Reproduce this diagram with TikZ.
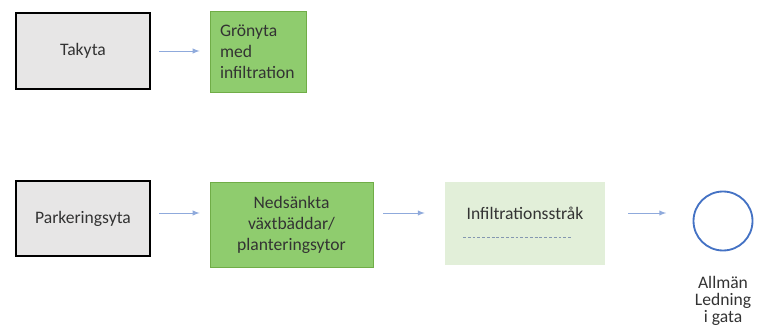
\documentclass[tikz,border=0pt]{standalone}
\usepackage{fontspec}
\setmainfont{Carlito}
\usepackage{tikz}
\usetikzlibrary{positioning}
\usetikzlibrary{calc}
\definecolor{takgra}{RGB}{231,230,230}
\definecolor{gron}{RGB}{143,204,110}
\definecolor{gronkant}{RGB}{112,173,71}
\definecolor{ljusgron}{RGB}{226,239,217}
\definecolor{pilbla}{RGB}{143,170,220}
\definecolor{ringbla}{RGB}{68,114,196}
\definecolor{streck}{RGB}{132,151,176}

\begin{document}
\begin{tikzpicture}[font=\fontsize{12.5}{15}\selectfont,text=black!80,
	yta/.style={draw=black, line width=2pt, fill=takgra, inner sep=0pt},
	gr/.style={draw=gronkant, line width=0.6pt, fill=gron, inner sep=0pt},
	stråk/.style={fill=ljusgron, inner sep=0pt},
	pil/.style={pilbla, line width=0.7pt, -latex},
	ring/.style={circle, draw=ringbla, line width=1.3pt, fill=white, minimum size=1.475cm}]
\useasboundingbox (0,0) rectangle (18.975,-8.325);

% rad 1
\node (tak) at (2.075,-1.275) [yta,minimum width=3.35cm,minimum height=1.9cm] {Takyta};
\node (gron) at (6.45,-1.29) [gr,minimum width=2.4cm,minimum height=2.025cm,inner xsep=0.25cm,text width=1.9cm,align=left] {Grönyta\\med\\infiltration};
\draw[pil,shorten <=0.2cm,shorten >=0.25cm] (tak.east) -- (tak.east -| gron.west);

% rad 2
\coordinate (r2) at (0,-5.325);
\node (park) at (2.075,-5.4625) [yta,minimum width=3.35cm,minimum height=1.875cm] {Parkeringsyta};
\node (ned) at (7.2875,-5.6125) [gr,minimum width=4.075cm,minimum height=2.125cm,align=center] {Nedsänkta\\växtbäddar/\\planteringsytor};
\node (infil) at (13.125,-5.5875) [stråk,minimum width=4cm,minimum height=2.075cm] {};
\node (infiltxt) at ($(infil.center)+(0,0.2625)$) {Infiltrationsstråk};
\draw[streck,line width=0.6pt,dash pattern=on 2pt off 1.4pt] ($(infil.center)+(-1.55,-0.3375)$) -- ($(infil.center)+(1.175,-0.3375)$);
\node (ledn) at (18.075,-5.525) [ring] {};
\node (lbl) [below=0.62cm of ledn,inner sep=0pt,align=center,font=\fontsize{12.5}{12}\selectfont] {Allmän\\Ledning\\i gata};

\foreach \a/\b/\s/\e in {park/ned/0.2/0.25, ned/infil/0.25/0.5, infil/ledn/0.575/0.66} {
\draw[pil,shorten <=\s cm,shorten >=\e cm] (\a.east |- r2) -- (\b.west |- r2);
}
\end{tikzpicture}
\end{document}
